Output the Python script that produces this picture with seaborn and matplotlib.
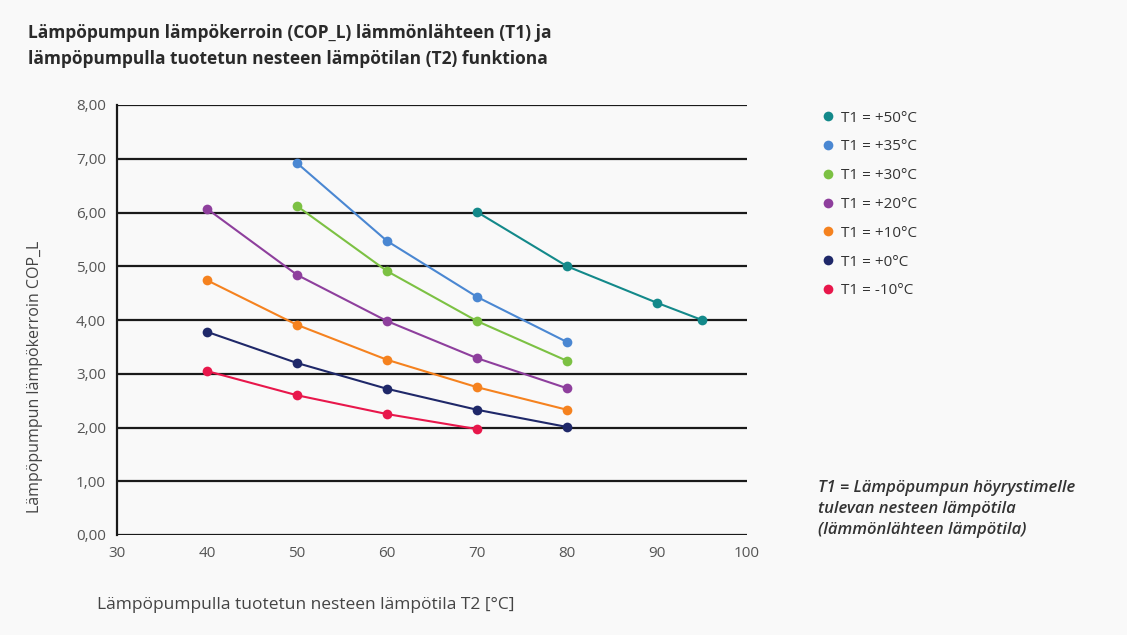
import pandas as pd
import matplotlib.pyplot as plt
import seaborn as sns
from matplotlib.ticker import FuncFormatter

# T1 series (lämmönlähde) and their points: T2 vs COP_L
t2_p50 = [70, 80, 90, 95]
cop_p50 = [6.01, 5.00, 4.32, 4.00]
t2_p35 = [50, 60, 70, 80]
cop_p35 = [6.92, 5.47, 4.43, 3.59]
t2_p30 = [50, 60, 70, 80]
cop_p30 = [6.12, 4.91, 3.98, 3.24]
t2_p20 = [40, 50, 60, 70, 80]
cop_p20 = [6.07, 4.84, 3.98, 3.29, 2.73]
t2_p10 = [40, 50, 60, 70, 80]
cop_p10 = [4.74, 3.91, 3.26, 2.75, 2.33]
t2_p0 = [40, 50, 60, 70, 80]
cop_p0 = [3.78, 3.20, 2.72, 2.33, 2.01]
t2_m10 = [40, 50, 60, 70]
cop_m10 = [3.05, 2.60, 2.25, 1.97]

labels = ['T1 = +50°C', 'T1 = +35°C', 'T1 = +30°C', 'T1 = +20°C',
          'T1 = +10°C', 'T1 = +0°C', 'T1 = -10°C']
colors = ['#13898a', '#4a87d2', '#7cc143', '#8e3f9d', '#f5821f', '#1f2869', '#e8174b']

series = [(t2_p50, cop_p50), (t2_p35, cop_p35), (t2_p30, cop_p30), (t2_p20, cop_p20),
          (t2_p10, cop_p10), (t2_p0, cop_p0), (t2_m10, cop_m10)]
frames = []
for lab, (x, y) in zip(labels, series):
    frames.append(pd.DataFrame({'T2': x, 'COP': y, 'T1': lab}))
df = pd.concat(frames, ignore_index=True)

sns.set_style('white')
plt.rcParams['font.family'] = ['Open Sans', 'DejaVu Sans']

fig = plt.figure(figsize=(11.27, 6.35), dpi=100)
fig.patch.set_facecolor('#f9f9f9')
ax = fig.add_axes([117 / 1127, 1 - 535 / 635, 630 / 1127, 430 / 635])
ax.set_facecolor('#f9f9f9')

sns.lineplot(data=df, x='T2', y='COP', hue='T1', hue_order=labels,
             palette=dict(zip(labels, colors)), marker='o', markersize=7,
             markeredgewidth=0, linewidth=1.5, ax=ax, sort=True)

ax.set_xlim(30, 100)
ax.set_ylim(0, 8)
ax.set_yticks(range(0, 9))
ax.set_xticks(range(30, 101, 10))
ax.yaxis.set_major_formatter(FuncFormatter(lambda v, p: f'{v:.2f}'.replace('.', ',')))
ax.grid(axis='y', color='#1a1a1a', linewidth=1.6)
ax.set_axisbelow(True)
for s in ['top', 'right', 'bottom']:
    ax.spines[s].set_visible(False)
ax.spines['left'].set_color('#1a1a1a')
ax.spines['left'].set_linewidth(1.6)
ax.tick_params(axis='both', length=0, labelsize=11, colors='#555555', pad=8)

ax.set_xlabel('Lämpöpumpulla tuotetun nesteen lämpötila T2 [°C]', fontsize=12.5,
              color='#444444', ha='left')
ax.xaxis.set_label_coords(-0.032, -0.145)
ax.set_ylabel('Lämpöpumpun lämpökerroin COP_L', fontsize=11.5, color='#444444')
ax.yaxis.set_label_coords(-0.118, 0.367)

handles, labs = ax.get_legend_handles_labels()
for h in handles:
    h.set_linestyle('')
ax.legend(handles, labs, loc='upper left', bbox_to_anchor=(803 / 1127, 1 - 97 / 635),
          bbox_transform=fig.transFigure, frameon=False, fontsize=11,
          labelspacing=0.9, handletextpad=0.1, handlelength=1.5, labelcolor='#333333')

fig.text(28 / 1127, 1 - 46 / 635,
         'Lämpöpumpun lämpökerroin (COP_L) lämmönlähteen (T1) ja\n'
         'lämpöpumpulla tuotetun nesteen lämpötilan (T2) funktiona',
         fontsize=12.5, fontweight='bold', color='#2a2a2a', va='center', linespacing=1.5)
fig.text(818 / 1127, 1 - 509 / 635,
         'T1 = Lämpöpumpun höyrystimelle\ntulevan nesteen lämpötila\n(lämmönlähteen lämpötila)',
         fontsize=12, style='italic', fontweight='semibold', color='#333333',
         va='center', linespacing=1.45)

fig.savefig('out.png', dpi=100, facecolor=fig.get_facecolor())
